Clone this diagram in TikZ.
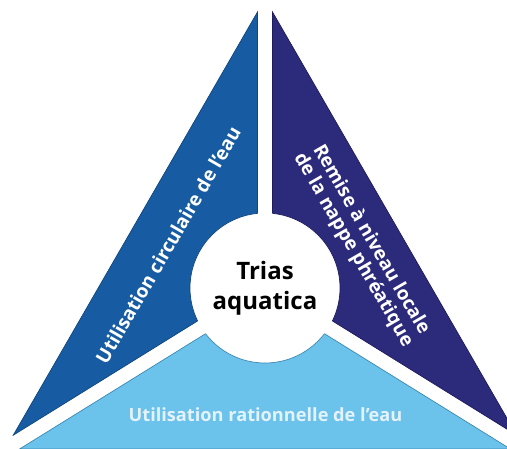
\documentclass[tikz,border=0pt]{standalone}
\usepackage{fontspec}
\setmainfont{Open Sans}
\definecolor{leftblue}{HTML}{175CA3}
\definecolor{leftedge}{HTML}{0F457E}
\definecolor{navy}{HTML}{2C2A7A}
\definecolor{navyedge}{HTML}{1E1C5A}
\definecolor{lightblue}{HTML}{6BC2EB}
\definecolor{lightedge}{HTML}{3C88B0}
\definecolor{paletext}{HTML}{E4F2FA}
\tikzset{
  piece/.style={line width=0.7pt, line join=miter},
  sidelabel/.style={font=\bfseries\fontsize{19}{20.6}\selectfont, text=white, align=center, inner sep=0pt},
  baselabel/.style={font=\bfseries\fontsize{18.2}{20}\selectfont, text=paletext, inner sep=0pt},
  hublabel/.style={circle, fill=white, minimum size=150pt, inner sep=0pt, align=center,
    font=\bfseries\fontsize{24}{31}\selectfont, text=black}
}
\begin{document}
\begin{tikzpicture}[x=1pt,y=1pt]
\useasboundingbox (0,0) rectangle (507,448);
\clip (0,0) rectangle (507,448);
\coordinate (C) at (265,160);
% pieces
\path[piece, fill=leftblue, draw=leftedge] (257.5,436) -- (13.25,12.8) -- (257.5,164.2) -- cycle;
\path[piece, fill=navy, draw=navyedge] (272.5,436) -- (516.75,12.8) -- (272.5,164.2) -- cycle;
\path[piece, fill=lightblue, draw=lightedge] (265,151.15) -- (19.6,-1) -- (510.4,-1) -- cycle;
% hub
\node[hublabel] (hub) at (C) {Trias\\[-1pt]aquatica};
\begin{scope}
  \clip (257.5,436) -- (13.25,12.8) -- (257.5,164.2) -- cycle;
  \draw[leftedge, line width=0.7pt] (C) circle (75);
\end{scope}
\begin{scope}
  \clip (272.5,436) -- (516.75,12.8) -- (272.5,164.2) -- cycle;
  \draw[navyedge, line width=0.7pt] (C) circle (75);
\end{scope}
\begin{scope}
  \clip (265,151.15) -- (19.6,-1) -- (510.4,-1) -- cycle;
  \draw[lightedge, line width=0.7pt] (C) circle (75);
\end{scope}
% labels
\node[sidelabel, rotate=60] (circ) at (168,203) {Utilisation circulaire de l’eau};
\node[sidelabel, rotate=-60] (nappe) at (362,203) {Remise à niveau locale\\de la nappe phréatique};
\node[baselabel, anchor=base] (ratio) at (265.5,27) {Utilisation rationnelle de l’eau};
\end{tikzpicture}
\end{document}
